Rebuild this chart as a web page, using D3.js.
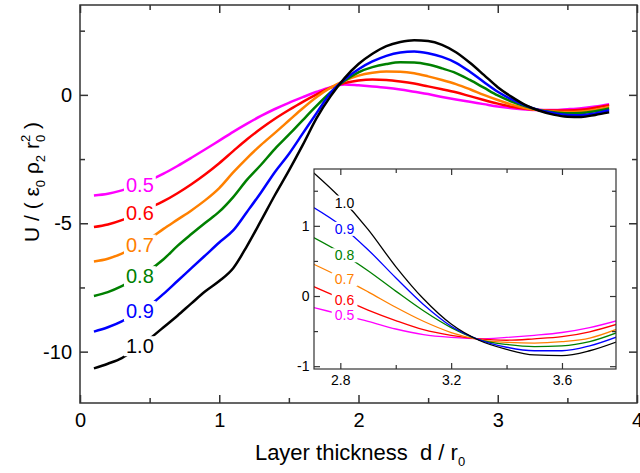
<!DOCTYPE html>
<html>
<head>
<meta charset="UTF-8">
<title>U vs layer thickness</title>
<script src="https://cdn.jsdelivr.net/npm/d3@7"></script>
<style>
  body { margin: 0; background: #fff; }
  svg { font-family: "Liberation Sans", Arial, sans-serif; }
</style>
</head>
<body>
<div id="grafico"></div>
<script>
// layer thickness d / r0
var dVals = [0.1,0.2,0.3,0.4,0.5,0.6,0.7,0.8,0.9,1.0,1.1,1.2,1.3,1.4,1.5,1.6,1.7,1.8,1.9,2.0,
             2.1,2.2,2.3,2.4,2.5,2.6,2.7,2.8,2.9,3.0,3.1,3.2,3.3,3.4,3.5,3.6,3.7,3.8];

// U / (eps0 rho2 r0^2), one array per curve
var u05 = [-3.92,-3.85,-3.72,-3.55,-3.33,-3.07,-2.77,-2.45,-2.12,-1.78,
           -1.44,-1.12,-0.82,-0.55,-0.31,-0.09,0.12,0.30,0.40,0.37,
           0.33,0.28,0.21,0.12,0.03,-0.08,-0.18,-0.27,-0.36,-0.45,
           -0.52,-0.57,-0.59,-0.59,-0.56,-0.52,-0.45,-0.36];
var u06 = [-5.15,-5.05,-4.88,-4.65,-4.40,-4.14,-3.83,-3.48,-3.09,-2.66,
           -2.19,-1.73,-1.31,-0.93,-0.59,-0.27,0.02,0.28,0.46,0.56,
           0.60,0.58,0.52,0.44,0.33,0.22,0.10,-0.05,-0.20,-0.34,
           -0.46,-0.54,-0.59,-0.61,-0.61,-0.58,-0.50,-0.40];
var u07 = [-6.49,-6.38,-6.18,-5.92,-5.60,-5.22,-4.86,-4.50,-4.10,-3.63,
           -3.02,-2.46,-1.95,-1.48,-1.00,-0.52,-0.08,0.28,0.55,0.75,
           0.86,0.91,0.90,0.84,0.72,0.58,0.42,0.22,0.00,-0.20,
           -0.38,-0.52,-0.60,-0.65,-0.67,-0.65,-0.58,-0.47];
var u08 = [-7.83,-7.68,-7.45,-7.15,-6.82,-6.40,-5.88,-5.42,-4.98,-4.55,
           -3.98,-3.30,-2.72,-2.10,-1.55,-0.98,-0.42,0.10,0.55,0.88,
           1.08,1.20,1.27,1.26,1.18,1.03,0.85,0.58,0.28,-0.02,
           -0.26,-0.45,-0.60,-0.68,-0.72,-0.71,-0.64,-0.53];
var u09 = [-9.22,-9.05,-8.82,-8.50,-8.20,-7.75,-7.25,-6.75,-6.25,-5.75,
           -5.28,-4.55,-3.80,-3.00,-2.30,-1.50,-0.70,0.08,0.60,1.00,
           1.30,1.52,1.65,1.69,1.62,1.48,1.25,0.90,0.50,0.12,
           -0.18,-0.42,-0.60,-0.71,-0.78,-0.79,-0.72,-0.60];
var u10 = [-10.65,-10.47,-10.25,-9.90,-9.50,-9.05,-8.60,-8.12,-7.65,-7.25,
           -6.75,-5.88,-4.90,-3.90,-2.95,-1.95,-0.90,-0.05,0.65,1.20,
           1.60,1.90,2.06,2.13,2.10,1.95,1.66,1.25,0.78,0.30,
           -0.08,-0.40,-0.62,-0.77,-0.85,-0.86,-0.78,-0.68];

// inset (zoom on 2.7 - 3.8)
var dInset = [2.7,2.8,2.9,3.0,3.1,3.2,3.3,3.4,3.5,3.6,3.7,3.8];
var i05 = [-0.16,-0.26,-0.36,-0.47,-0.55,-0.59,-0.61,-0.59,-0.56,-0.52,-0.45,-0.35];
var i06 = [0.14,-0.03,-0.20,-0.35,-0.48,-0.56,-0.61,-0.63,-0.61,-0.58,-0.51,-0.40];
var i07 = [0.46,0.27,0.06,-0.16,-0.36,-0.52,-0.62,-0.66,-0.67,-0.65,-0.60,-0.47];
var i08 = [0.84,0.62,0.36,0.07,-0.21,-0.45,-0.62,-0.69,-0.72,-0.71,-0.65,-0.52];
var i09 = [1.27,1.01,0.66,0.26,-0.12,-0.43,-0.62,-0.73,-0.78,-0.78,-0.71,-0.58];
var i10 = [1.77,1.40,0.95,0.42,-0.04,-0.40,-0.63,-0.76,-0.84,-0.85,-0.78,-0.65];

var names  = ["0.5","0.6","0.7","0.8","0.9","1.0"];
var colors = ["#ff00ff","#ff0000","#ff8000","#008000","#0000ff","#000000"];
var mainU  = [u05,u06,u07,u08,u09,u10];
var insetU = [i05,i06,i07,i08,i09,i10];

// tick values
var xMajor = [0,1,2,3,4], xMinor = [0.5,1.5,2.5,3.5];
var yMajor = [-10,-5,0], yMinor = [-7.5,-2.5,2.5];
var ixMajor = [2.8,3.2,3.6], ixMinor = [3.0,3.4];
var iyMajor = [-1,0,1], iyMinor = [-0.5,0.5,1.5];

var W = 640, H = 473;
var svg = d3.select("#grafico").append("svg")
    .attr("width", W).attr("height", H);

var x = d3.scaleLinear().domain([0,4]).range([80,637]);
var y = d3.scaleLinear().domain([-12,3.5]).range([403,5]);
var xi = d3.scaleLinear().domain([2.705,3.795]).range([314,616]);
var yi = d3.scaleLinear().domain([-1.04,1.81]).range([369,169]);

var fmt = function(v){ return String(v); };

// frame with inward ticks on all four sides
function frame(g, xs, ys, o) {
    var x0 = xs.range()[0], x1 = xs.range()[1];
    var y0 = ys.range()[1], y1 = ys.range()[0];
    var axes = [
        [d3.axisBottom(xs).tickValues(o.xMajor).tickSize(-o.big).tickPadding(o.xPad).tickFormat(fmt), y1],
        [d3.axisBottom(xs).tickValues(o.xMinor).tickSize(-o.small).tickFormat(""), y1],
        [d3.axisTop(xs).tickValues(o.xMajor).tickSize(-o.big).tickFormat(""), y0],
        [d3.axisTop(xs).tickValues(o.xMinor).tickSize(-o.small).tickFormat(""), y0]
    ];
    axes.forEach(function(a){
        g.append("g").attr("transform", "translate(0," + a[1] + ")").call(a[0]);
    });
    var yaxes = [
        [d3.axisLeft(ys).tickValues(o.yMajor).tickSize(-o.big).tickPadding(o.yPad).tickFormat(fmt), x0],
        [d3.axisLeft(ys).tickValues(o.yMinor).tickSize(-o.small).tickFormat(""), x0],
        [d3.axisRight(ys).tickValues(o.yMajor).tickSize(-o.big).tickFormat(""), x1],
        [d3.axisRight(ys).tickValues(o.yMinor).tickSize(-o.small).tickFormat(""), x1]
    ];
    yaxes.forEach(function(a){
        g.append("g").attr("transform", "translate(" + a[1] + ",0)").call(a[0]);
    });
    g.selectAll(".domain").remove();
    g.selectAll(".tick line").attr("stroke", "#333").attr("stroke-width", o.sw);
    g.selectAll(".tick text").attr("fill", "#000").attr("font-size", o.fs)
        .attr("font-family", "Liberation Sans, Arial, sans-serif");
    g.append("rect")
        .attr("x", x0).attr("y", y0)
        .attr("width", x1 - x0).attr("height", y1 - y0)
        .attr("fill", "none").attr("stroke", "#333").attr("stroke-width", o.sw);
}

function curves(g, xs, ys, dArr, series, width, clipId) {
    var line = d3.line()
        .x(function(p){ return xs(p[0]); })
        .y(function(p){ return ys(p[1]); })
        .curve(d3.curveMonotoneX);
    var cg = g.append("g");
    if (clipId) cg.attr("clip-path", "url(#" + clipId + ")");
    series.forEach(function(vals, k){
        cg.append("path")
            .datum(dArr.map(function(dd, j){ return [dd, vals[j]]; }))
            .attr("d", line)
            .attr("fill", "none")
            .attr("stroke", colors[k])
            .attr("stroke-width", width)
            .attr("stroke-linejoin", "round");
    });
}

// label sitting on the curve with a white gap behind it
function labels(g, xs, ys, dArr, series, at, fs, pad) {
    series.forEach(function(vals, k){
        var interp = d3.scaleLinear().domain(dArr).range(vals);
        var lg = g.append("g");
        var bg = lg.append("rect").attr("fill", "#fff");
        var t = lg.append("text")
            .attr("x", xs(at)).attr("y", ys(interp(at)))
            .attr("dy", "0.36em")
            .attr("text-anchor", "middle")
            .attr("font-size", fs)
            .attr("fill", colors[k])
            .text(names[k]);
        var b = t.node().getBBox();
        bg.attr("x", b.x - pad).attr("y", b.y + 1)
          .attr("width", b.width + 2 * pad).attr("height", b.height - 2);
    });
}

// main plot
var main = svg.append("g");
curves(main, x, y, dVals, mainU, 2.5);
labels(main, x, y, dVals, mainU, 0.43, 20, 2);
frame(main, x, y, {xMajor: xMajor, xMinor: xMinor, yMajor: yMajor, yMinor: yMinor,
                   big: 8, small: 5, xPad: 10, yPad: 8, fs: 20, sw: 1.5});

// inset
svg.append("clipPath").attr("id", "clipInset")
    .append("rect").attr("x", 314).attr("y", 169).attr("width", 302).attr("height", 200);
var inset = svg.append("g");
inset.append("rect").attr("x", 314).attr("y", 169).attr("width", 302).attr("height", 200)
    .attr("fill", "#fff");
curves(inset, xi, yi, dInset, insetU, 1.3, "clipInset");
labels(inset, xi, yi, dInset, insetU, 2.815, 14, 3);
frame(inset, xi, yi, {xMajor: ixMajor, xMinor: ixMinor, yMajor: iyMajor, yMinor: iyMinor,
                      big: 6, small: 4, xPad: 6, yPad: 4.5, fs: 14, sw: 1.2});

// axis titles
var xt = svg.append("text")
    .attr("x", 360).attr("y", 460)
    .attr("text-anchor", "middle")
    .attr("font-size", 22)
    .attr("fill", "#000");
xt.append("tspan").text("Layer thickness\u00a0\u00a0d / r");
xt.append("tspan").attr("font-size", 13).attr("dy", 6).text("0");

var yt = svg.append("text")
    .attr("transform", "translate(39,182) rotate(-90)")
    .attr("text-anchor", "middle")
    .attr("font-size", 21)
    .attr("fill", "#000");
yt.append("tspan").text("U / ( \u03b5");
yt.append("tspan").attr("font-size", 13).attr("dy", 6).text("0");
yt.append("tspan").attr("dy", -6).text(" \u03c1");
yt.append("tspan").attr("font-size", 13).attr("dy", 6).text("2");
yt.append("tspan").attr("dy", -6).text(" r");
yt.append("tspan").attr("font-size", 13).attr("dy", 6).text("0");
yt.append("tspan").attr("font-size", 13).attr("dx", -7.2).attr("dy", -15).text("2");
yt.append("tspan").attr("dy", 9).text(" )");
</script>
</body>
</html>
